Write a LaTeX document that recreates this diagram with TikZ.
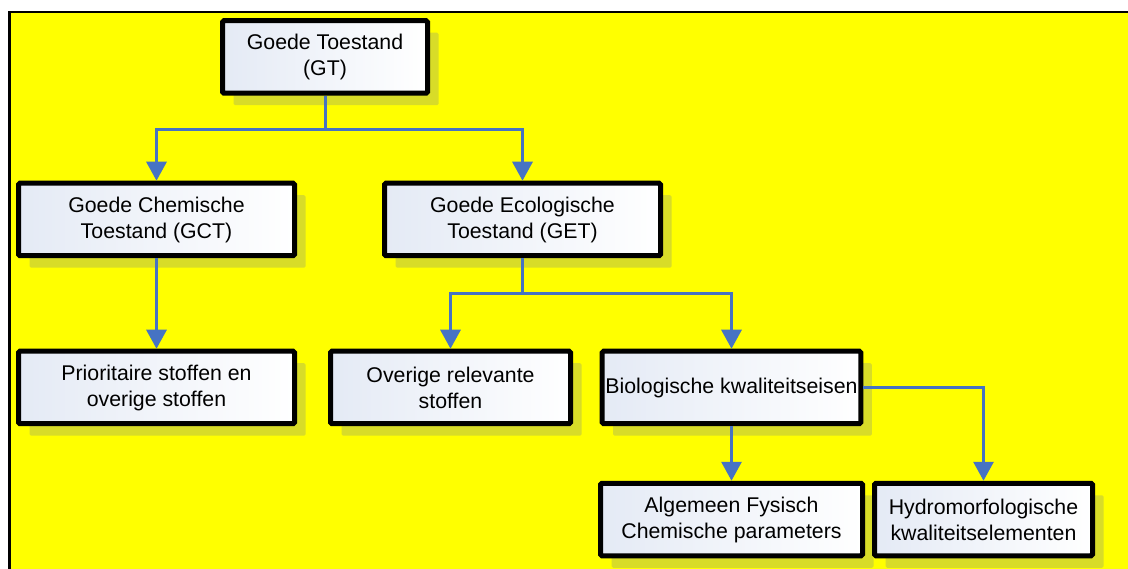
\documentclass[tikz,border=0pt]{standalone}
\usepackage{fontspec}
\setmainfont{Liberation Sans}
\usepackage{tikz}
\usetikzlibrary{arrows.meta,shadows,positioning}
\definecolor{bgyellow}{RGB}{255,255,0}
\definecolor{shadowolive}{RGB}{216,220,40}
\definecolor{boxblue}{RGB}{228,234,245}
\definecolor{linkblue}{RGB}{70,115,195}
\tikzstyle{block} = [draw, line width=5pt, rounded corners=1.5pt, rectangle,
    left color=boxblue, right color=white, align=center,
    minimum height=72.5pt, text=black,
    font=\fontsize{21.3}{26}\selectfont,
    drop shadow={shadow xshift=11pt, shadow yshift=-12pt,
        fill=shadowolive, opacity=1}]
\tikzstyle{link} = [draw=linkblue, line width=3pt,
    -{Triangle[width=20pt,length=19pt]}]
\begin{document}
\begin{tikzpicture}[x=1pt, y=1pt]

    % Background and frame
    \useasboundingbox (0,0) rectangle (1128,-569);
    \fill [bgyellow] (8,-12) rectangle (1128,-569);
    \draw [line width=2.5pt] (9.3,-569) -- (9.3,-12) -- (1128,-12);

    % Top level
    \node [block, minimum width=205pt] (gt) at (325,-57) {Goede Toestand\\(GT)};

    % Second level
    \node [block, minimum width=276pt] (gct) at (156.5,-219.5)
        {Goede Chemische\\Toestand (GCT)};
    \node [block, minimum width=276pt, right of=gct,
        node distance=366pt] (get) {Goede Ecologische\\Toestand (GET)};

    % Third level
    \node [block, minimum width=276pt, below of=gct,
        node distance=168pt] (prio) {Prioritaire stoffen en\\overige stoffen};
    \node [block, minimum width=240pt, right of=prio,
        node distance=294pt] (overig) {Overige relevante\\stoffen};
    \node [block, minimum width=252pt, right of=overig,
        node distance=281pt] (bio) {Biologische kwaliteitseisen};

    % Fourth level
    \node [block, minimum width=262pt, below of=bio,
        node distance=132pt] (alg) {Algemeen Fysisch\\Chemische parameters};
    \node [block, minimum width=218pt, right of=alg,
        node distance=252pt] (hydro) {Hydromorfologische\\kwaliteitselementen};

    % Connectors
    \draw [link] (gt.south) -- ++(0,-34) -| (gct.north);
    \draw [link] (gt.south) -- ++(0,-34) -| (get.north);
    \draw [link] (gct.south) -- (prio.north);
    \draw [link] (get.south) -- ++(0,-35) -| (overig.north);
    \draw [link] (get.south) -- ++(0,-35) -| (bio.north);
    \draw [link] (bio.south) -- (alg.north);
    \draw [link] (bio.east) -| (hydro.north);
\end{tikzpicture}
\end{document}
